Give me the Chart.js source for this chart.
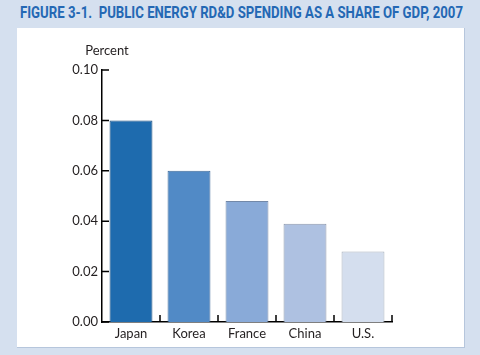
<!DOCTYPE html>
<html><head><meta charset="utf-8">
<script src="https://cdn.jsdelivr.net/npm/chart.js@4"></script>
<style>
html,body{margin:0;padding:0;}
body{width:480px;height:355px;background:#d5e0ef;position:relative;overflow:hidden;}
#title{position:absolute;left:20px;top:4px;font:bold 17px "Liberation Sans Narrow",Roboto,sans-serif;line-height:17px;color:#2468b4;white-space:nowrap;transform-origin:0 0;}
#panel{position:absolute;left:17px;top:28px;width:447px;height:319px;background:#fff;border-right:1px solid #b6c6dc;border-bottom:1px solid #b6c6dc;}
canvas{position:absolute;left:0;top:0;}
</style></head>
<body>
<div id="title">FIGURE 3-1.&nbsp; PUBLIC ENERGY RD&amp;D SPENDING AS A SHARE OF GDP, 2007</div>
<div id="panel"></div>
<canvas id="c" width="480" height="355"></canvas>
<script>
const categories = ['Japan', 'Korea', 'France', 'China', 'U.S.'];
const shareOfGDP = [0.080, 0.060, 0.048, 0.039, 0.028];
const barColors = ['#1e6bae', '#518ac6', '#89aad8', '#aec1e1', '#d4deee'];
const barBorders = ['#1b4d7e', '#3f6a98', '#7288a8', '#8a97aa', '#a7b0bd'];
const yAxisLabel = 'Percent';

const t = document.getElementById('title');
const w = t.getBoundingClientRect().width;
t.style.transform = 'scaleX(' + (443 / w) + ')';

const axisDecor = {
  id: 'axisDecor',
  afterDraw(chart) {
    const {ctx, scales: {x, y}, chartArea: a} = chart;
    ctx.save();
    ctx.strokeStyle = '#000';
    ctx.lineWidth = 1.5;
    ctx.beginPath();
    y.ticks.forEach(tk => {
      const py = y.getPixelForValue(tk.value);
      ctx.moveTo(a.left, py); ctx.lineTo(a.left + 7, py);
    });
    for (let i = 1; i <= categories.length; i++) {
      const px = i < categories.length ? (x.getPixelForTick(i - 1) + x.getPixelForTick(i)) / 2 : a.right;
      ctx.moveTo(px, a.bottom); ctx.lineTo(px, a.bottom - 7);
    }
    ctx.stroke();
    ctx.fillStyle = '#231f20';
    ctx.font = '13px Lato, sans-serif';
    ctx.textAlign = 'center';
    ctx.textBaseline = 'middle';
    ctx.fillText(yAxisLabel, a.left + 5, a.top - 19);
    ctx.restore();
  }
};

new Chart(document.getElementById('c'), {
  type: 'bar',
  data: {
    labels: categories,
    datasets: [{
      data: shareOfGDP,
      backgroundColor: barColors,
      borderColor: barBorders,
      borderWidth: 1,
      barPercentage: 0.74,
      categoryPercentage: 1
    }]
  },
  options: {
    responsive: false,
    animation: false,
    layout: {padding: {left: 0, right: 88, top: 70, bottom: 0}},
    plugins: {legend: {display: false}, tooltip: {enabled: false}, title: {display: false}},
    scales: {
      x: {
        grid: {display: false, drawTicks: false},
        border: {display: true, color: '#000', width: 1.5},
        ticks: {color: '#231f20', font: {family: 'Lato', size: 13}, padding: 4},
        afterFit(s) { s.height = 33; }
      },
      y: {
        min: 0, max: 0.1,
        grid: {display: false, drawTicks: false},
        border: {display: true, color: '#000', width: 1.5},
        ticks: {stepSize: 0.02, color: '#231f20', font: {family: 'Lato', size: 13}, padding: 4,
          callback: v => v.toFixed(2)},
        afterFit(s) { s.width = 102; }
      }
    }
  },
  plugins: [axisDecor]
});
</script>
</body></html>
